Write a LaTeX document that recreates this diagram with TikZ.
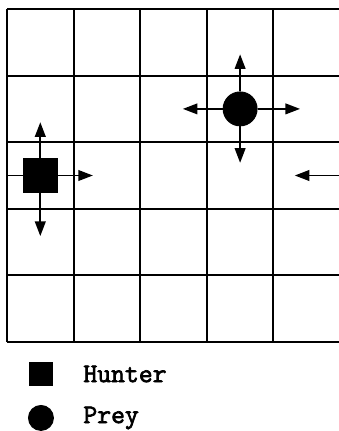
\documentclass[tikz,border=0pt]{standalone}
\usepackage{fontspec}
\setmonofont{Latin Modern Mono}[AutoFakeBold=2.5]
\usepackage{tikz}
\usetikzlibrary{arrows.meta,positioning}

\begin{document}
\begin{tikzpicture}[
  grid line/.style={line width=0.8pt},
  hunter style/.style={draw, fill=black, rectangle, minimum size=0.51cm, inner sep=0pt},
  prey style/.style={draw, fill=black, circle, minimum size=0.51cm, inner sep=0pt},
  arrow/.style={-{Triangle[length=2.2mm,width=1.6mm]}, line width=0.8pt},
  stub/.style={line width=0.8pt},
  legend text/.style={anchor=west, inner sep=0pt, font=\ttfamily\bfseries\fontsize{11.5}{13}\selectfont},
]
  \useasboundingbox (-0.105,-1.336) rectangle (4.97,5.135);

  % Board
  \draw[grid line] (0,0) grid (5,5);

  % Hunter and prey
  \node[hunter style] (hunter) at (0.5,2.5) {};
  \node[prey style] (prey) at (3.5,3.5) {};

  % Moves of the hunter
  \coordinate (h up) at (0.5,3.30);
  \coordinate (h down) at (0.5,1.59);
  \coordinate (h right) at (1.29,2.5);
  \coordinate (h left) at (0,2.5);
  \draw[arrow] (hunter) -- (h up);
  \draw[arrow] (hunter) -- (h down);
  \draw[arrow] (hunter) -- (h right);
  \draw[stub] (hunter) -- (h left);

  % Moves of the prey
  \coordinate (p up) at (3.5,4.32);
  \coordinate (p down) at (3.5,2.69);
  \coordinate (p left) at (2.64,3.5);
  \coordinate (p right) at (4.40,3.5);
  \draw[arrow] (prey) -- (p up);
  \draw[arrow] (prey) -- (p down);
  \draw[arrow] (prey) -- (p left);
  \draw[arrow] (prey) -- (p right);

  % Move coming in from the right
  \coordinate (edge) at (5.1,2.5);
  \coordinate (edge tip) at (4.32,2.5);
  \draw[arrow] (edge) -- (edge tip);

  % Legend
  \node[hunter style, minimum size=0.345cm] (key hunter) at (0.51,-0.48) {};
  \node[prey style, minimum size=0.375cm] (key prey) at (0.51,-1.14) {};
  \node[legend text] (hunter label) at (1.14,-0.48) {Hunter};
  \node[legend text] (prey label) at (1.14,-1.14) {Prey};
\end{tikzpicture}
\end{document}
